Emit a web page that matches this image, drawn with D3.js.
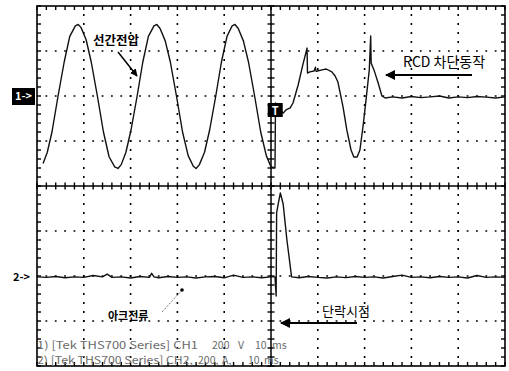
<!DOCTYPE html>
<html>
<head>
<meta charset="utf-8">
<script src="https://cdn.jsdelivr.net/npm/d3@7"></script>
<style>
  body { margin: 0; background: #fff; }
  svg { display: block; }
  text { font-family: "Noto Sans CJK KR", "DejaVu Sans", sans-serif; }
</style>
</head>
<body>
<div id="scope"></div>
<script>
// scope settings (10 ms/div, 200 V/div on CH1, 200 A/div on CH2)
const timeDivs = [0, 10, 20, 30, 40, 50, 60, 70, 80, 90, 100];
const levelDivs = [-4, -3, -2, -1, 0, 1, 2, 3, 4];
const voltsPerDiv = 200;
const ampsPerDiv = 200;
const ch1Ref = 2;   // "1->" marker, divisions from centre
const ch2Ref = -2;  // "2->" marker

// CH1 line voltage, time in ms, value in V
const ch1Time = [1.3, 2.2, 3.2, 4.5, 5.8, 7.0, 8.2, 8.8, 9.4, 10.5, 11.6, 12.9, 14.2, 15.4, 16.6, 17.3, 18.0, 19.0, 20.1,
  21.4, 22.6, 23.8, 25.0, 25.6, 26.3, 27.4, 28.5, 29.8, 31.1, 32.3, 33.4, 34.0, 34.7, 35.8, 36.9, 38.2, 39.4, 40.6,
  41.7, 42.3, 43.0, 44.1, 45.2, 46.5, 47.8, 49.0, 50.0, 50.6, 50.85, 50.96, 52.6, 53.2, 54.1, 54.7, 55.8, 56.8,
  57.7, 57.8, 58.3, 59.2, 59.5, 59.6, 59.7, 60.9, 61.8, 63.0, 63.7, 64.3, 65.4, 66.2, 67.1, 67.7, 68.4, 69.0, 69.7,
  70.3, 71.0, 71.3, 71.4, 72.0, 72.9, 73.7, 74.4, 76, 78, 80, 82, 84, 86, 88, 90, 92, 94, 96, 98, 100];
const ch1Volts = [-300, -250, -160, 0, 150, 265, 312, 318, 305, 250, 150, 0, -160, -270, -315, -322, -305, -250, -150,
  0, 150, 265, 312, 318, 300, 245, 150, 0, -160, -265, -312, -322, -305, -250, -150, 0, 150, 265,
  312, 318, 300, 245, 150, 0, -160, -265, -315, -318, -320, -31, -76, -62, -53, -31, 49, 138,
  213, 102, 107, 111, 128, 111, 110, 116, 120, 107, 89, 62, -49, -151, -240, -271, -271, -240, -129,
  -18, 116, 267, 147, 116, 58, 0, -9, -4, -9, -2, -7, -4, 0, -9, -4, -7, -2, -5, -9, -4];

// CH2 arc current, time in ms, value in A
const ch2Time = [0, 2, 4, 6, 8, 10, 12, 14, 15, 16, 18, 20, 22, 24, 24.5, 25, 26, 28, 30, 32, 34, 36, 38, 40, 42, 44,
  46, 48, 50, 50.85, 51.1, 51.2, 51.5, 52.0, 52.6, 53.4, 54.4, 56, 58, 60, 62, 64, 66, 68, 70, 72, 74, 76, 78, 80,
  82, 84, 86, 88, 90, 92, 94, 96, 98, 100];
const ch2Amps = [-4, -6, -2, -8, -4, -6, 2, -4, 8, -6, -4, -9, -2, -6, 12, -4, -8, -2, -6, -4, -9, -4, -2, -8, 4, -6,
  -4, -8, -4, -4, -89, 280, 316, 369, 320, 160, -4, -8, -2, -6, -9, -4, -7, -2, -6, -4, -9, -2, 4, -6,
  -4, -8, -2, -6, -4, -9, 2, -6, -4, -6];

const ch1 = ch1Time.map((t, i) => ({ t, v: ch1Ref + ch1Volts[i] / voltsPerDiv }));
const ch2 = ch2Time.map((t, i) => ({ t, v: ch2Ref + ch2Amps[i] / ampsPerDiv }));

const W = 509, H = 371;
const margin = { top: 6, right: 4, bottom: 5, left: 37 };

const svg = d3.select('#scope').append('svg')
  .attr('width', W)
  .attr('height', H);

const x = d3.scaleLinear().domain([0, 100]).range([margin.left, W - margin.right]);
const y = d3.scaleLinear().domain([-4, 4]).range([H - margin.bottom, margin.top]);

// dotted graticule
const grid = svg.append('g').attr('stroke', '#000');
grid.selectAll('.vgrid')
  .data(timeDivs.filter(d => d > 0 && d < 100 && d !== 50))
  .enter().append('line')
  .attr('x1', d => x(d)).attr('x2', d => x(d))
  .attr('y1', y(4)).attr('y2', y(-4))
  .attr('stroke-width', 1.6)
  .attr('stroke-dasharray', '1.8,7.2')
  .attr('stroke-dashoffset', -8.1);
grid.selectAll('.hgrid')
  .data(levelDivs.filter(d => d > -4 && d < 4 && d !== 0))
  .enter().append('line')
  .attr('x1', x(0)).attr('x2', x(100))
  .attr('y1', d => y(d)).attr('y2', d => y(d))
  .attr('stroke-width', 1.6)
  .attr('stroke-dasharray', '1.8,7.56')
  .attr('stroke-dashoffset', -8.46);

// centre cross and frame
grid.append('line').attr('x1', x(50)).attr('x2', x(50)).attr('y1', y(4)).attr('y2', y(-4)).attr('stroke-width', 1.5);
grid.append('line').attr('x1', x(0)).attr('x2', x(100)).attr('y1', y(0)).attr('y2', y(0)).attr('stroke-width', 1.6);
grid.append('rect')
  .attr('x', x(0)).attr('y', y(4))
  .attr('width', x(100) - x(0)).attr('height', y(-4) - y(4))
  .attr('fill', 'none').attr('stroke-width', 1.6);

// minor ticks, five per division
const minorT = d3.range(0, 100.01, 2);
const minorV = d3.range(-4, 4.01, 0.2);
const ticks = grid.append('g').attr('stroke-width', 1.4);
minorT.forEach(t => {
  ticks.append('line').attr('x1', x(t)).attr('x2', x(t)).attr('y1', y(4)).attr('y2', y(4) + 4);
  ticks.append('line').attr('x1', x(t)).attr('x2', x(t)).attr('y1', y(-4)).attr('y2', y(-4) - 4);
  ticks.append('line').attr('x1', x(t)).attr('x2', x(t)).attr('y1', y(0) - 3.5).attr('y2', y(0) + 3.5);
});
minorV.forEach(v => {
  ticks.append('line').attr('x1', x(0)).attr('x2', x(0) + 4).attr('y1', y(v)).attr('y2', y(v));
  ticks.append('line').attr('x1', x(100)).attr('x2', x(100) - 4).attr('y1', y(v)).attr('y2', y(v));
  ticks.append('line').attr('x1', x(50) - 3.5).attr('x2', x(50) + 3.5).attr('y1', y(v)).attr('y2', y(v));
});

// traces
const line = d3.line().x(d => x(d.t)).y(d => y(d.v));
svg.append('path').datum(ch1)
  .attr('d', line)
  .attr('fill', 'none')
  .attr('stroke', '#111')
  .attr('stroke-width', 1.4)
  .attr('stroke-linejoin', 'round');
svg.append('path').datum(ch2)
  .attr('d', line)
  .attr('fill', 'none')
  .attr('stroke', '#111')
  .attr('stroke-width', 1.4)
  .attr('stroke-linejoin', 'round');

// channel markers
svg.append('rect').attr('x', 12).attr('y', y(ch1Ref) - 8).attr('width', 23).attr('height', 17).attr('fill', '#000');
svg.append('text').attr('x', 15).attr('y', y(ch1Ref) + 4)
  .attr('fill', '#fff').attr('font-size', 11).attr('font-weight', 'bold')
  .attr('font-family', 'DejaVu Sans').text('1->');
svg.append('text').attr('x', 13).attr('y', y(ch2Ref) + 5)
  .attr('fill', '#000').attr('font-size', 11).attr('font-weight', 'bold')
  .attr('font-family', 'DejaVu Sans').text('2->');

// trigger marker
svg.append('rect').attr('x', x(49.3)).attr('y', y(ch1Ref) + 7).attr('width', 15).attr('height', 14).attr('fill', '#000');
svg.append('text').attr('x', x(49.3) + 7.5).attr('y', y(ch1Ref) + 18.5)
  .attr('text-anchor', 'middle').attr('fill', '#fff').attr('font-size', 11).attr('font-weight', 'bold')
  .attr('font-family', 'DejaVu Sans').text('T');

// annotations
const defs = svg.append('defs');
defs.append('marker')
  .attr('id', 'head').attr('viewBox', '0 0 10 10')
  .attr('refX', 9).attr('refY', 5)
  .attr('markerWidth', 5).attr('markerHeight', 5)
  .attr('markerUnits', 'strokeWidth')
  .attr('orient', 'auto')
  .append('path').attr('d', 'M0,0L10,5L0,10Z').attr('fill', '#000');

const note = svg.append('g');
note.append('text').attr('x', 93).attr('y', 45).attr('font-size', 12.5).attr('font-weight', 'bold').text('선간전압');
note.append('line').attr('x1', 118).attr('y1', 52).attr('x2', 137).attr('y2', 76)
  .attr('stroke', '#000').attr('stroke-width', 1.5).attr('marker-end', 'url(#head)');

note.append('text').attr('x', 403).attr('y', 67).attr('font-size', 14).text('RCD 차단동작');
note.append('line').attr('x1', 472).attr('y1', 75).attr('x2', 386).attr('y2', 75)
  .attr('stroke', '#000').attr('stroke-width', 2).attr('marker-end', 'url(#head)');

note.append('text').attr('x', 108).attr('y', 320).attr('font-size', 11).attr('font-weight', 'bold').text('아크전류');
note.append('line').attr('x1', 162).attr('y1', 312).attr('x2', 182).attr('y2', 290)
  .attr('stroke', '#555').attr('stroke-width', 0.8).attr('stroke-dasharray', '2,1.5');
note.append('circle').attr('cx', 182).attr('cy', 290).attr('r', 1.8).attr('fill', '#000');

note.append('text').attr('x', 322).attr('y', 316).attr('font-size', 13).text('단락시점');
note.append('line').attr('x1', 357).attr('y1', 323).attr('x2', 281).attr('y2', 323)
  .attr('stroke', '#000').attr('stroke-width', 2).attr('marker-end', 'url(#head)');

// scope readout
const readout = svg.append('g').attr('fill', '#6a6a6a').attr('font-size', 10.5).attr('font-family', 'DejaVu Serif');
const row1 = [['1) [Tek THS700 Series] CH1', 37], ['200', 212], ['V', 238], ['10', 255], ['ms', 272]];
const row2 = [['2) [Tek THS700 Series] CH2,', 37], ['200,', 198], ['A,', 222], ['10', 248], ['ms', 264]];
row1.forEach(([s, px]) => readout.append('text').attr('x', px).attr('y', 349).text(s));
row2.forEach(([s, px]) => readout.append('text').attr('x', px).attr('y', 364).text(s));
readout.select('text').attr('textLength', 161).attr('lengthAdjust', 'spacingAndGlyphs');
readout.selectAll('text').filter((d, i) => i === 5).attr('textLength', 156).attr('lengthAdjust', 'spacingAndGlyphs');
</script>
</body>
</html>
